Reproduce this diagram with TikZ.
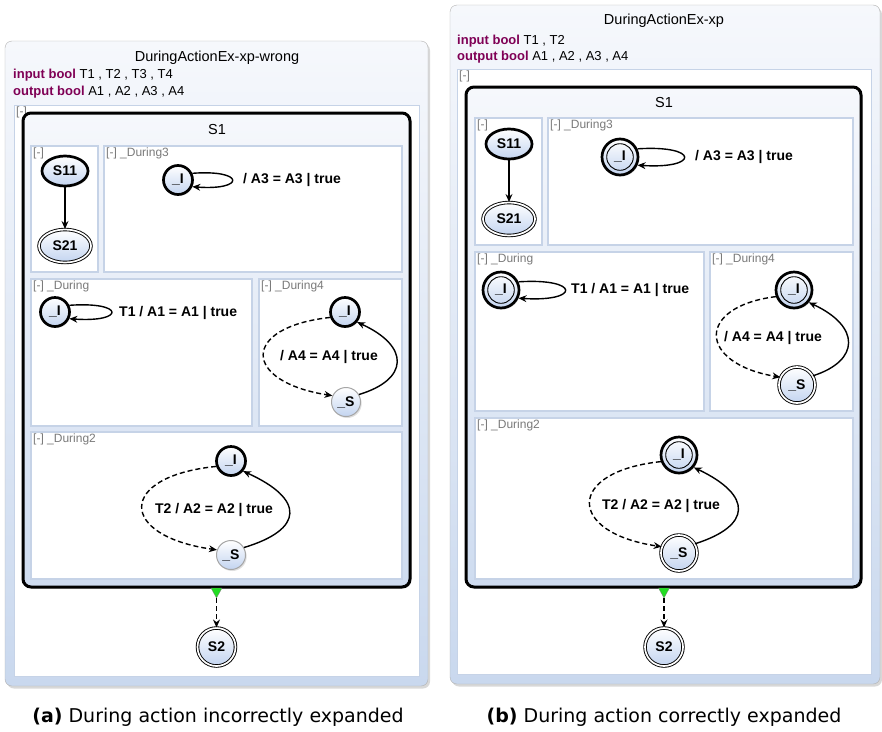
\documentclass[tikz,border=0pt]{standalone}
\usepackage{fontspec}
\setmainfont{Liberation Sans}
\newfontfamily\capfont{DejaVu Sans}
\usepackage{tikz}
\usetikzlibrary{arrows.meta,shapes.geometric,shadows}
\definecolor{kwc}{HTML}{7F0055}
\definecolor{rimc}{HTML}{C6D3E7}
\definecolor{pnlt}{HTML}{F6F8FC}
\definecolor{pnlb}{HTML}{C9D8EE}
\definecolor{stb}{HTML}{C3D4F0}
\definecolor{labc}{HTML}{7A7A7A}
\definecolor{trig}{HTML}{22DD22}
\tikzset{
  ar/.style={-{Stealth[length=2.8mm,width=2.4mm]},line width=1.4pt},
  dsh/.style={dash pattern=on 5pt off 3pt},
  st/.style={circle,draw=black!35,line width=1pt,top color=white,bottom color=stb,minimum size=29pt,inner sep=0pt,
    font=\fontsize{14}{16}\selectfont\bfseries,drop shadow={shadow xshift=1.2pt,shadow yshift=-1.5pt,opacity=0.25}},
  ell/.style={st,ellipse,minimum width=46pt,minimum height=30pt},
  ini/.style={draw=black,line width=2.7pt},
  fin/.style={draw=black,double,double distance=1.7pt,line width=0.9pt,minimum size=36pt},
  ifin/.style={ini,minimum size=36pt,path picture={\draw[line width=0.9pt] (path picture bounding box.center) circle[radius=13.3pt];}},
  tlab/.style={font=\fontsize{14}{16}\selectfont\bfseries,inner sep=0pt},
  ttl/.style={font=\fontsize{14.5}{16}\selectfont,inner sep=0pt},
  dcl/.style={font=\fontsize{13}{15}\selectfont,anchor=west,inner sep=0pt},
  rlab/.style={font=\fontsize{12}{14}\selectfont,text=labc,anchor=north west,inner sep=1pt},
  pnl/.style={top color=pnlt,bottom color=pnlb,draw=black!30,rounded corners=7pt,
    drop shadow={shadow xshift=2pt,shadow yshift=-2.5pt,opacity=0.3}},
  inbox/.style={fill=white,draw=rimc,line width=1pt},
  sbox/.style={top color=pnlt,bottom color=pnlb!90,draw=black,line width=3pt,rounded corners=8pt,
    drop shadow={shadow xshift=1.5pt,shadow yshift=-1.5pt,opacity=0.25}},
  rgnbox/.style={fill=white,draw=rimc,line width=1.2pt},
  captxt/.style={font=\capfont\fontsize{19}{22}\selectfont}
}
\newcommand{\kw}[1]{{\color{kwc}\bfseries #1}}
\newcommand{\rgn}[6]{%
  \draw[rgnbox] (#2,#3) rectangle (#4,#5);
  \node[rlab] (#1) at (#2+1,#3+1) {#6};}
\newcommand{\slp}[2]{\draw[ar] (#1.25) .. controls +(#2,-4) and +(#2,4) .. (#1.-25);}
\newcommand{\trg}[2]{\filldraw[trig,draw=black!50,line width=0.3pt] (#1-5.5,#2+1) -- (#1+5.5,#2+1) -- (#1,#2+11) -- cycle;}

\begin{document}
\begin{tikzpicture}[x=1pt,y=-1pt]
\useasboundingbox[fill=white] (0,0) rectangle (882,731);
% (a) wrong
\shade[pnl] (5,41) rectangle (428,686);
\node[ttl] (tA) at (217,58) {DuringActionEx-xp-wrong};
\node[dcl] (inA) at (13,75) {\kw{input bool} T1 , T2 , T3 , T4};
\node[dcl] (outA) at (13,92) {\kw{output bool} A1 , A2 , A3 , A4};
\draw[inbox] (14,105) rectangle (419,676);
\node[rlab] (rA) at (15,106) {[-]};
\shade[sbox] (23,113) rectangle (410,587);
\node[ttl] (sA) at (217,130) {S1};
\rgn{rA1}{31}{146}{98}{272}{[-]}
\rgn{rA3}{104}{146}{402}{272}{[-] \_During3}
\rgn{rA0}{31}{279}{252}{426}{[-] \_During}
\rgn{rA4}{259}{279}{402}{426}{[-] \_During4}
\rgn{rA2}{31}{432}{402}{579}{[-] \_During2}
\node[ell,ini] (s11A) at (65,171) {S11};
\node[ell,fin,minimum width=52pt,minimum height=33pt] (s21A) at (65,246) {S21};
\draw[ar] (s11A) -- (s21A);
\node[st,ini] (i3A) at (178,180) {\_I};
\slp{i3A}{53}
\node[tlab,anchor=west] (l3A) at (243,180) {/ A3 = A3 | true};
\node[st,ini] (i0A) at (55,312) {\_I};
\slp{i0A}{56}
\node[tlab,anchor=west] (l0A) at (119,313) {T1 / A1 = A1 | true};
\node[st,ini] (i4A) at (345,312) {\_I};
\node[st] (s4A) at (346,402) {\_S};
\draw[ar,dsh] (i4A.200) .. controls +(-90,10) and +(-90,-14) .. (s4A.155);
\draw[ar] (s4A.30) .. controls +(50,-15) and +(53,24) .. (i4A.-40);
\node[tlab] (l4A) at (329,357) {/ A4 = A4 | true};
\node[st,ini] (i2A) at (231,461) {\_I};
\node[st] (s2A) at (231,555) {\_S};
\draw[ar,dsh] (i2A.200) .. controls +(-99,10) and +(-99,-14) .. (s2A.160);
\draw[ar] (s2A.30) .. controls +(60,-18) and +(62,28) .. (i2A.-40);
\node[tlab] (l2A) at (214,510) {T2 / A2 = A2 | true};
\trg{216.5}{587}
\coordinate (tA1) at (216.5,598);
\node[st,fin,minimum size=38pt] (endA) at (216.5,647) {S2};
\draw[ar,dsh] (tA1) -- (endA);
% (b) right
\shade[pnl] (450,5) rectangle (880,684);
\node[ttl] (tB) at (664,21) {DuringActionEx-xp};
\node[dcl] (inB) at (457,41) {\kw{input bool} T1 , T2};
\node[dcl] (outB) at (457,57) {\kw{output bool} A1 , A2 , A3 , A4};
\draw[inbox] (457,69) rectangle (871,674);
\node[rlab] (rB) at (458,70) {[-]};
\shade[sbox] (466,87) rectangle (861,587);
\node[ttl] (sB) at (664,103) {S1};
\rgn{rB1}{475}{118}{542}{245}{[-]}
\rgn{rB3}{548}{118}{853}{245}{[-] \_During3}
\rgn{rB0}{475}{252}{704}{411}{[-] \_During}
\rgn{rB4}{710}{252}{853}{411}{[-] \_During4}
\rgn{rB2}{475}{418}{853}{579}{[-] \_During2}
\node[ell,ini] (s11B) at (509,144) {S11};
\node[ell,fin,minimum width=52pt,minimum height=33pt] (s21B) at (509,219) {S21};
\draw[ar] (s11B) -- (s21B);
\node[st,ifin] (i3B) at (620,157) {\_I};
\slp{i3B}{62}
\node[tlab,anchor=west] (l3B) at (695,157) {/ A3 = A3 | true};
\node[st,ifin] (i0B) at (501,290) {\_I};
\slp{i0B}{62}
\node[tlab,anchor=west] (l0B) at (571,290) {T1 / A1 = A1 | true};
\node[st,ifin] (i4B) at (794,290) {\_I};
\node[st,fin] (s4B) at (797,385) {\_S};
\draw[ar,dsh] (i4B.200) .. controls +(-80,10) and +(-83,-14) .. (s4B.155);
\draw[ar] (s4B.30) .. controls +(47,-15) and +(52,24) .. (i4B.-40);
\node[tlab] (l4B) at (773,338) {/ A4 = A4 | true};
\node[st,ifin] (i2B) at (679,455) {\_I};
\node[st,fin] (s2B) at (679,553) {\_S};
\draw[ar,dsh] (i2B.200) .. controls +(-95,10) and +(-95,-14) .. (s2B.160);
\draw[ar] (s2B.30) .. controls +(57,-18) and +(59,28) .. (i2B.-40);
\node[tlab] (l2B) at (661,506) {T2 / A2 = A2 | true};
\trg{664}{587}
\coordinate (tB1) at (664,598);
\node[st,fin,minimum size=38pt] (endB) at (664,647) {S2};
\draw[ar,dsh] (tB1) -- (endB);
% captions
\node[captxt] (capA) at (218,717) {\textbf{(a)} During action incorrectly expanded};
\node[captxt] (capB) at (664,717) {\textbf{(b)} During action correctly expanded};
\end{tikzpicture}
\end{document}
